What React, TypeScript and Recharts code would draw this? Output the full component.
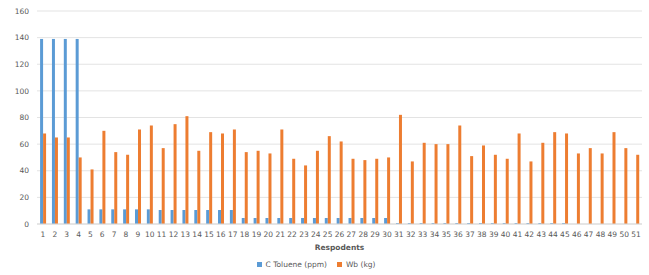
import React from "react";
import { BarChart, Bar, XAxis, YAxis, CartesianGrid, Legend } from "recharts";

const respondents = Array.from({ length: 51 }, (_, i) => String(i + 1));
const toluene = [
  139, 139, 139, 139, 11, 11, 11, 11, 11, 11, 10.5, 10.5, 10.5, 10.5, 10.5, 10.5, 10.5,
  4.5, 4.5, 4.5, 4.5, 4.5, 4.5, 4.5, 4.5, 4.5, 4.5, 4.5, 4.5, 4.5,
  0.7, 0.7, 0.7, 0.7, 0.7, 0.7, 0.7, 0.7, 0.7, 0.7, 0.7, 0.7, 0.7, 0.7, 0.7,
  0, 0, 0, 0, 0, 0,
];
const wb = [
  68, 65, 65, 50, 41, 70, 54, 52, 71, 74, 57, 75, 81, 55, 69, 68, 71, 54, 55, 53,
  71, 49, 44, 55, 66, 62, 49, 48, 49, 50, 82, 47, 61, 60, 60, 74, 51, 59, 52, 49,
  68, 47, 61, 69, 68, 53, 57, 53, 69, 57, 52,
];
const yTicks = [0, 20, 40, 60, 80, 100, 120, 140, 160];

const data = respondents.map((r, i) => ({ name: r, toluene: toluene[i], wb: wb[i] }));

const FONT = "'DejaVu Sans', sans-serif";
const GRAY = "#595959";

export default function App() {
  return (
    <div style={{ position: "absolute", left: 0, top: 0, width: 649, height: 275, background: "#fff" }}>
      <BarChart
        width={649}
        height={275}
        data={data}
        margin={{ top: 11, right: 7, left: 0, bottom: 0 }}
        barCategoryGap="26%"
        barGap={0}
      >
        <CartesianGrid vertical={false} stroke="#E3E3E3" />
        <XAxis
          dataKey="name"
          interval={0}
          height={31}
          tickLine={false}
          axisLine={{ stroke: "#D9D9D9" }}
          tickSize={0}
          tickMargin={8}
          tick={{ fontSize: 7.5, fill: GRAY, fontFamily: FONT }}
          label={{
            value: "Respodents",
            position: "insideBottom",
            offset: 5,
            style: { fontSize: 7.5, fill: GRAY, fontFamily: FONT, fontWeight: "bold" },
          }}
        />
        <YAxis
          width={37}
          domain={[0, 160]}
          ticks={yTicks}
          interval={0}
          tickLine={false}
          axisLine={false}
          tick={{ fontSize: 7.5, fill: GRAY, fontFamily: FONT }}
        />
        <Legend
          verticalAlign="bottom"
          height={20}
          iconType="square"
          iconSize={5}
          wrapperStyle={{ fontSize: 7.5, fontFamily: FONT, top: 258, lineHeight: "14px" }}
          formatter={(v) => <span style={{ color: GRAY }}>{v}</span>}
        />
        <Bar dataKey="toluene" name="C Toluene (ppm)" fill="#5B9BD5" isAnimationActive={false} />
        <Bar dataKey="wb" name="Wb (kg)" fill="#ED7D31" isAnimationActive={false} />
      </BarChart>
    </div>
  );
}
